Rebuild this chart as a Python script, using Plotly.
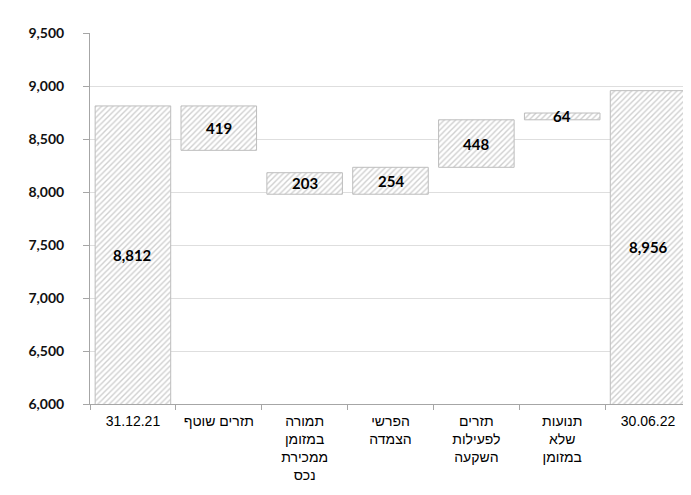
import plotly.graph_objects as go

categories = ["31.12.21", "תזרים שוטף", "תמורה<br>במזומן<br>ממכירת<br>נכס", "הפרשי<br>הצמדה",
              "תזרים<br>לפעילות<br>השקעה", "תנועות<br>שלא<br>במזומן", "30.06.22"]
values = [8812, 419, 203, 254, 448, 64, 8956]
bases = [0, 8393, 7979, 7979, 8233, 8681, 0]
labels = ["8,812", "419", "203", "254", "448", "64", "8,956"]
y_ticks = [6000, 6500, 7000, 7500, 8000, 8500, 9000, 9500]
y_min, y_max = 6000, 9500

fig = go.Figure(go.Bar(
    x=categories, y=values, base=bases,
    marker=dict(color="white",
                line=dict(color="#bdbdbd", width=1),
                pattern=dict(shape="/", fgcolor="#a0a0a0", bgcolor="white", size=4, solidity=0.35)),
    width=0.88, hoverinfo="skip",
))

for c, v, b, lab in zip(categories, values, bases, labels):
    lo = max(b, y_min)
    hi = b + v
    fig.add_annotation(x=c, y=(lo + hi) / 2, text=lab, showarrow=False,
                       font=dict(family="Lato, DejaVu Sans", size=15, color="black", weight="bold"))

# page body has an 8px default margin, compensated here
fig.update_layout(
    width=691, height=495,
    margin=dict(l=82, r=8, t=25, b=99),
    plot_bgcolor="white", paper_bgcolor="white",
    showlegend=False,
    font=dict(family="Liberation Sans, DejaVu Sans", color="black"),
)
fig.update_xaxes(
    type="category", tickson="boundaries",
    showline=True, linecolor="#a6a6a6", linewidth=1,
    ticks="outside", ticklen=5, tickcolor="#a6a6a6",
    showgrid=False, automargin=False,
    tickfont=dict(family="Liberation Sans, DejaVu Sans", size=14, color="black"),
    ticklabelstandoff=4,
)
fig.update_yaxes(
    range=[y_min, y_max], tickvals=y_ticks,
    ticktext=[f"{v:,}" for v in y_ticks],
    showline=True, linecolor="#a6a6a6", linewidth=1,
    ticks="outside", ticklen=6, tickcolor="#a6a6a6",
    showgrid=True, gridcolor="#dedede", gridwidth=1,
    zeroline=False, automargin=False,
    tickfont=dict(family="Lato, DejaVu Sans", size=14, color="#111111", weight="bold"),
    ticklabelstandoff=16,
)

fig.write_html("out.html")
